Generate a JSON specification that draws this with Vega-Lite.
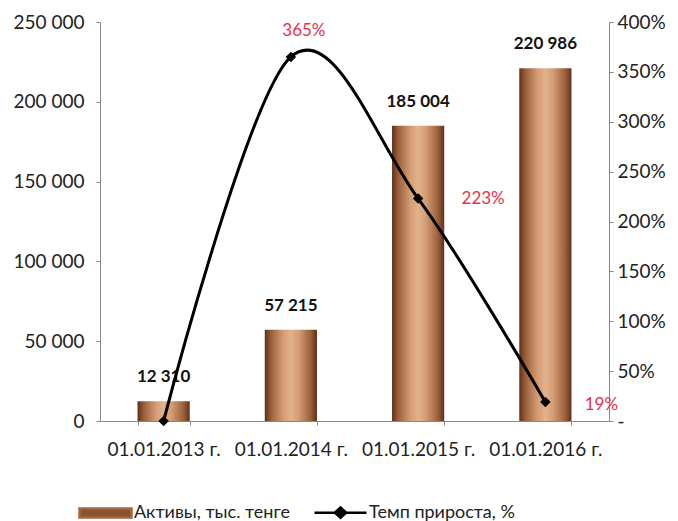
{
  "$schema": "https://vega.github.io/schema/vega-lite/v6.json",
  "autosize": "none",
  "width": 509,
  "height": 399,
  "padding": {"left": 100, "top": 22, "right": 69, "bottom": 100},
  "background": "white",
  "config": {
    "font": "Lato",
    "view": {"stroke": null},
    "locale": {"number": {"decimal": ",", "thousands": " ", "grouping": [3], "currency": ["", ""], "percent": "%"}},
    "axis": {"labelFont": "Lato", "labelFontSize": 19, "labelColor": "#222", "domainColor": "#888", "tickColor": "#888", "grid": false, "title": null}
  },
  "data": {
    "values": [
      {"date": "01.01.2013 г.", "assets": 12310, "growth": 0},
      {"date": "01.01.2014 г.", "assets": 57215, "growth": 3.65},
      {"date": "01.01.2015 г.", "assets": 185004, "growth": 2.23},
      {"date": "01.01.2016 г.", "assets": 220986, "growth": 0.19}
    ]
  },
  "encoding": {
    "x": {"field": "date", "type": "nominal", "sort": null,
      "scale": {"paddingInner": 0.59, "paddingOuter": 0.295},
      "axis": {"labelAngle": 0, "tickBand": "extent", "tickSize": 4, "labelPadding": 15, "domainColor": "#888"}}
  },
  "layer": [
    {
      "layer": [
        {
          "mark": {"type": "bar",
            "fill": {"gradient": "linear", "x1": 0, "x2": 1, "y1": 0, "y2": 0,
              "stops": [
                {"offset": 0, "color": "#5e3019"},
                {"offset": 0.12, "color": "#9a603c"},
                {"offset": 0.35, "color": "#d49c74"},
                {"offset": 0.5, "color": "#e2b28e"},
                {"offset": 0.65, "color": "#d49c74"},
                {"offset": 0.88, "color": "#9a603c"},
                {"offset": 1, "color": "#5e3019"}
              ]}},
          "encoding": {
            "y": {"field": "assets", "type": "quantitative",
              "scale": {"domain": [0, 250000], "nice": false, "zero": true},
              "axis": {"values": [0, 50000, 100000, 150000, 200000, 250000], "format": ",d", "tickSize": 4, "labelPadding": 12}}
          }
        },
        {
          "mark": {"type": "text", "dy": -24, "fontWeight": "bold", "fontSize": 17, "font": "Lato", "color": "#111"},
          "encoding": {
            "y": {"field": "assets", "type": "quantitative", "scale": {"domain": [0, 250000], "nice": false, "zero": true}},
            "text": {"field": "assets", "type": "quantitative", "format": ",d"}
          }
        }
      ]
    },
    {
      "layer": [
        {
          "mark": {"type": "line", "interpolate": "cardinal", "strokeWidth": 3},
          "encoding": {
            "y": {"field": "growth", "type": "quantitative",
              "scale": {"domain": [0, 4], "nice": false},
              "axis": {"orient": "right", "values": [0, 0.5, 1, 1.5, 2, 2.5, 3, 3.5, 4],
                "labelExpr": "datum.value == 0 ? '-' : format(datum.value, '.0%')", "tickSize": 4, "labelPadding": 4}},
            "color": {"datum": "Темп прироста, %", "type": "nominal",
              "scale": {"domain": ["Активы, тыс. тенге", "Темп прироста, %"], "range": ["#a0683f", "#000000"]},
              "legend": {
                "orient": "none", "legendX": -22, "legendY": 463, "direction": "horizontal",
                "title": null, "labelFont": "Lato", "labelFontSize": 18, "labelColor": "#222",
                "symbolSize": 2704, "columnPadding": 19, "labelOffset": 1,
                "encode": {
                  "symbols": {"update": {
                    "shape": {"signal": "datum.value == 'Активы, тыс. тенге' ? 'M-1,-0.17H1V0.17H-1Z' : 'M-1,0H-0.22L0,-0.2L0.22,0H1M0.22,0L0,0.2L-0.22,0'"},
                    "fill": {"signal": "datum.value == 'Активы, тыс. тенге' ? '#8a5230' : '#000'"},
                    "stroke": {"signal": "datum.value == 'Активы, тыс. тенге' ? null : '#000'"},
                    "strokeWidth": {"value": 2.5}
                  }}
                }
              }}
          }
        },
        {
          "mark": {"type": "point", "shape": "diamond", "filled": true, "size": 110, "color": "#000", "opacity": 1},
          "encoding": {
            "y": {"field": "growth", "type": "quantitative", "scale": {"domain": [0, 4], "nice": false}}
          }
        },
        {
          "transform": [{"filter": "datum.growth == 3.65"}],
          "mark": {"type": "text", "dx": 13, "dy": -26, "fontSize": 17, "font": "Lato", "color": "#e8304a"},
          "encoding": {
            "y": {"field": "growth", "type": "quantitative", "scale": {"domain": [0, 4], "nice": false}},
            "text": {"field": "growth", "type": "quantitative", "format": ".0%"}
          }
        },
        {
          "transform": [{"filter": "datum.growth == 2.23"}],
          "mark": {"type": "text", "dx": 65, "fontSize": 17, "font": "Lato", "color": "#e8304a"},
          "encoding": {
            "y": {"field": "growth", "type": "quantitative", "scale": {"domain": [0, 4], "nice": false}},
            "text": {"field": "growth", "type": "quantitative", "format": ".0%"}
          }
        },
        {
          "transform": [{"filter": "datum.growth == 0.19"}],
          "mark": {"type": "text", "dx": 56, "dy": 3, "fontSize": 17, "font": "Lato", "color": "#e8304a"},
          "encoding": {
            "y": {"field": "growth", "type": "quantitative", "scale": {"domain": [0, 4], "nice": false}},
            "text": {"field": "growth", "type": "quantitative", "format": ".0%"}
          }
        }
      ]
    }
  ],
  "resolve": {"scale": {"y": "independent"}}
}
